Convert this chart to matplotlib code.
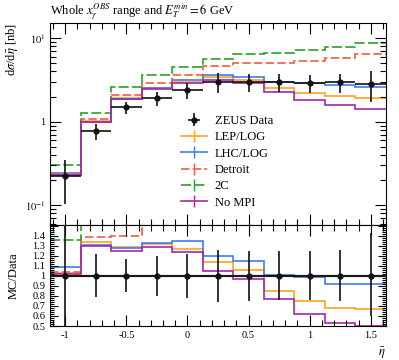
import matplotlib
matplotlib.use('Agg')
import matplotlib.pyplot as plt
from matplotlib.lines import Line2D
from matplotlib.ticker import MultipleLocator, FixedLocator, FuncFormatter, LogLocator, NullFormatter
import numpy as np

plt.rcParams['font.family'] = ['Liberation Serif', 'DejaVu Serif']
plt.rcParams['mathtext.fontset'] = 'stix'

# bins in eta-bar
edges = [-1.125, -0.875, -0.625, -0.375, -0.125, 0.125, 0.375, 0.625, 0.875, 1.125, 1.375, 1.625]
eta = [-1.0, -0.75, -0.5, -0.25, 0.0, 0.25, 0.5, 0.75, 1.0, 1.25, 1.5]

# ZEUS data [nb]
data = [0.225, 0.765, 1.48, 1.92, 2.37, 3.0, 3.0, 2.97, 2.93, 2.96, 2.83]
data_err_lo = [0.122, 0.165, 0.24, 0.38, 0.52, 0.78, 0.75, 0.73, 0.72, 0.75, 1.13]
data_err_hi = [0.122, 0.165, 0.24, 0.38, 0.52, 0.78, 0.75, 0.73, 0.72, 0.75, 1.2]

# MC predictions [nb]
lep_log = [0.232, 1.025, 1.91, 2.52, 2.99, 3.42, 3.18, 2.53, 2.2, 2.02, 1.9]
lhc_log = [0.245, 1.0, 1.89, 2.55, 3.18, 3.6, 3.45, 2.98, 2.9, 2.72, 2.6]
detroit = [0.234, 1.063, 2.07, 2.9, 3.65, 4.6, 5.0, 5.0, 5.35, 5.78, 6.55]
two_c = [0.305, 1.28, 2.57, 3.6, 4.55, 5.7, 6.42, 6.6, 7.25, 7.82, 8.8]
no_mpi = [0.23, 0.995, 1.85, 2.46, 2.92, 3.15, 2.9, 2.27, 1.81, 1.58, 1.42]

labels = ['LEP/LOG', 'LHC/LOG', 'Detroit', '2C', 'No MPI']
series = [lep_log, lhc_log, detroit, two_c, no_mpi]
colors = ['#ffa21f', '#3f7cf0', '#f05c40', '#2ca02c', '#a526ab']
styles = ['-', '-', (0, (5, 2)), (0, (6, 2)), '-']

fig = plt.figure(figsize=(3.99, 3.6), dpi=100)
ax = fig.add_axes([50 / 399, 1 - 225 / 360, 336 / 399, 202 / 360])
axr = fig.add_axes([50 / 399, 1 - 326 / 360, 336 / 399, 101 / 360], sharex=ax)

data = np.array(data)
hw = 0.125

handles = []
for vals, lab, c, ls in zip(series, labels, colors, styles):
    v = np.array(vals)
    ax.stairs(v, edges, baseline=None, color=c, lw=1.2, ls=ls)
    axr.stairs(v / data, edges, baseline=None, color=c, lw=1.2, ls=ls)
    handles.append(Line2D([], [], color=c, lw=1.2, ls=ls, marker='|', ms=8, mew=1.0))

dat = ax.errorbar(eta, data, xerr=hw, yerr=[data_err_lo, data_err_hi], fmt='o', color='#111111',
                  ms=3.5, lw=1.2, capsize=0, zorder=5)
axr.errorbar(eta, np.ones(len(eta)), xerr=hw, yerr=[np.array(data_err_lo) / data, np.array(data_err_hi) / data],
             fmt='o', color='#111111', ms=3.5, lw=1.2, capsize=0, zorder=5)
axr.axhline(1.0, color='#444444', lw=1.6, zorder=4)

ax.set_yscale('log')
ax.set_ylim(0.058, 15.2)
ax.set_xlim(-1.125, 1.625)
axr.set_ylim(0.5, 1.505)

ax.yaxis.set_major_locator(FixedLocator([0.1, 1, 10]))
ax.yaxis.set_major_formatter(FuncFormatter(lambda v, p: {0.1: r'$10^{-1}$', 1: '1', 10: r'$10^{1}$'}.get(round(v, 3), '')))
ax.yaxis.set_minor_locator(LogLocator(base=10, subs=np.arange(2, 10)))
ax.yaxis.set_minor_formatter(NullFormatter())

for a in (ax, axr):
    a.xaxis.set_major_locator(MultipleLocator(0.5))
    a.xaxis.set_minor_locator(MultipleLocator(0.1))
    a.tick_params(which='both', direction='in', top=True, right=True, labelsize=7.5, width=0.8)
    a.tick_params(which='major', length=8)
    a.tick_params(which='minor', length=4)
    for s in a.spines.values():
        s.set_linewidth(0.8)

ax.tick_params(labelbottom=False)
axr.yaxis.set_major_locator(MultipleLocator(0.1))
axr.yaxis.set_minor_locator(MultipleLocator(0.02))
axr.yaxis.set_major_formatter(FuncFormatter(lambda v, p: '%g' % round(v, 2) if v < 1.45 else ''))
axr.xaxis.set_major_formatter(FuncFormatter(lambda v, p: '%g' % v))
axr.tick_params(axis='y', which='major', length=6)
axr.tick_params(axis='y', which='minor', length=3)

ax.set_title(r'Whole $x_{\gamma}^{OBS}$ range and $E_T^{min}=6$ GeV', loc='left', fontsize=9, pad=6)
ax.set_ylabel(r'd$\sigma$/d$\bar{\eta}$ [nb]', loc='top', fontsize=9)
axr.set_ylabel('MC/Data', fontsize=9)
axr.set_xlabel(r'$\bar{\eta}$', loc='right', fontsize=9)
ax.yaxis.set_label_coords(-0.09, 1.0)
axr.yaxis.set_label_coords(-0.09, 0.5)

ax.legend([dat] + handles, ['ZEUS Data'] + labels, loc='upper left', bbox_to_anchor=(0.39, 0.545),
          frameon=False, fontsize=9, handlelength=2.1, handletextpad=0.6, labelspacing=0.35,
          borderpad=0, borderaxespad=0)

fig.savefig('out.png', dpi=100)
